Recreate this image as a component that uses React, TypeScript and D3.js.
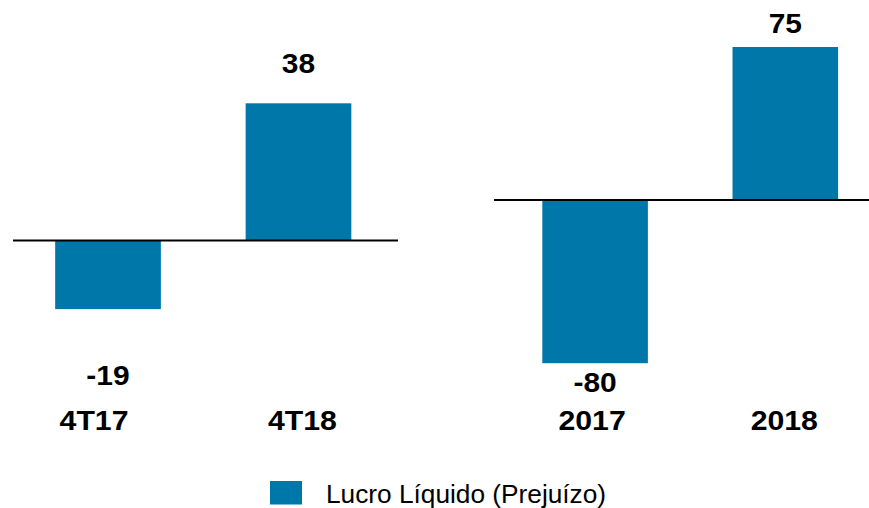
import React from "react";
import * as d3 from "d3";

const quarterCats = ["4T17", "4T18"];
const quarterValues = [-19, 38];
const yearCats = ["2017", "2018"];
const yearValues = [-80, 75];
const seriesName = "Lucro Líquido (Prejuízo)";

const W = 869;
const H = 508;
const COLOR = "#0077a9";
const FONT = "'Liberation Sans', Arial, sans-serif";

type Panel = {
  cats: string[];
  values: number[];
  xRange: [number, number];
  lineX: [number, number];
  y0: number;
  refVal: number;
  refY: number;
  valueLabelY: number[];
  catDx: number[];
};

const panels: Panel[] = [
  {
    cats: quarterCats,
    values: quarterValues,
    xRange: [10.5, 396],
    lineX: [13, 398],
    y0: 240.5,
    refVal: 38,
    refY: 103.3,
    valueLabelY: [385, 73.3],
    catDx: [-14, 4],
  },
  {
    cats: yearCats,
    values: yearValues,
    xRange: [497.7, 882.7],
    lineX: [494, 869],
    y0: 200,
    refVal: 75,
    refY: 47,
    valueLabelY: [391.7, 32.7],
    catDx: [-3, -1],
  },
];

function SText({
  x,
  y,
  sx,
  anchor,
  size,
  bold,
  children,
}: {
  x: number;
  y: number;
  sx: number;
  anchor: string;
  size: number;
  bold?: boolean;
  children: React.ReactNode;
}) {
  return (
    <text
      transform={`translate(${x},${y}) scale(${sx},1)`}
      textAnchor={anchor}
      fontFamily={FONT}
      fontWeight={bold ? "bold" : "normal"}
      fontSize={size}
      fill="#000"
    >
      {children}
    </text>
  );
}

function PanelView({ p }: { p: Panel }) {
  const x = d3
    .scaleBand<string>()
    .domain(p.cats)
    .range(p.xRange)
    .paddingInner(0.445)
    .paddingOuter(0.2345);
  const y = d3.scaleLinear().domain([0, p.refVal]).range([p.y0, p.refY]);
  return (
    <g>
      {p.cats.map((c, i) => {
        const v = p.values[i];
        const top = Math.min(y(v), y(0));
        const h = Math.abs(y(v) - y(0));
        return (
          <rect
            key={c}
            x={x(c)}
            y={top}
            width={x.bandwidth()}
            height={h}
            fill={COLOR}
          />
        );
      })}
      <line
        x1={p.lineX[0]}
        x2={p.lineX[1]}
        y1={y(0)}
        y2={y(0)}
        stroke="#000"
        strokeWidth={2}
      />
      {p.cats.map((c, i) => (
        <SText
          key={"v" + c}
          x={(x(c) as number) + x.bandwidth() / 2}
          y={p.valueLabelY[i]}
          sx={1.07}
          anchor="middle"
          size={28}
          bold
        >
          {p.values[i]}
        </SText>
      ))}
      {p.cats.map((c, i) => (
        <SText
          key={"c" + c}
          x={(x(c) as number) + x.bandwidth() / 2 + p.catDx[i]}
          y={430}
          sx={1.08}
          anchor="middle"
          size={28}
          bold
        >
          {c}
        </SText>
      ))}
    </g>
  );
}

export default function App() {
  return (
    <svg
      width={W}
      height={H}
      style={{ position: "absolute", left: 0, top: 0, background: "#fff" }}
    >
      <rect width={W} height={H} fill="#fff" />
      {panels.map((p, i) => (
        <PanelView key={i} p={p} />
      ))}
      <rect x={270} y={481} width={32} height={23.5} fill={COLOR} />
      <SText x={326} y={503} sx={1.05} anchor="start" size={25}>
        {seriesName}
      </SText>
    </svg>
  );
}
